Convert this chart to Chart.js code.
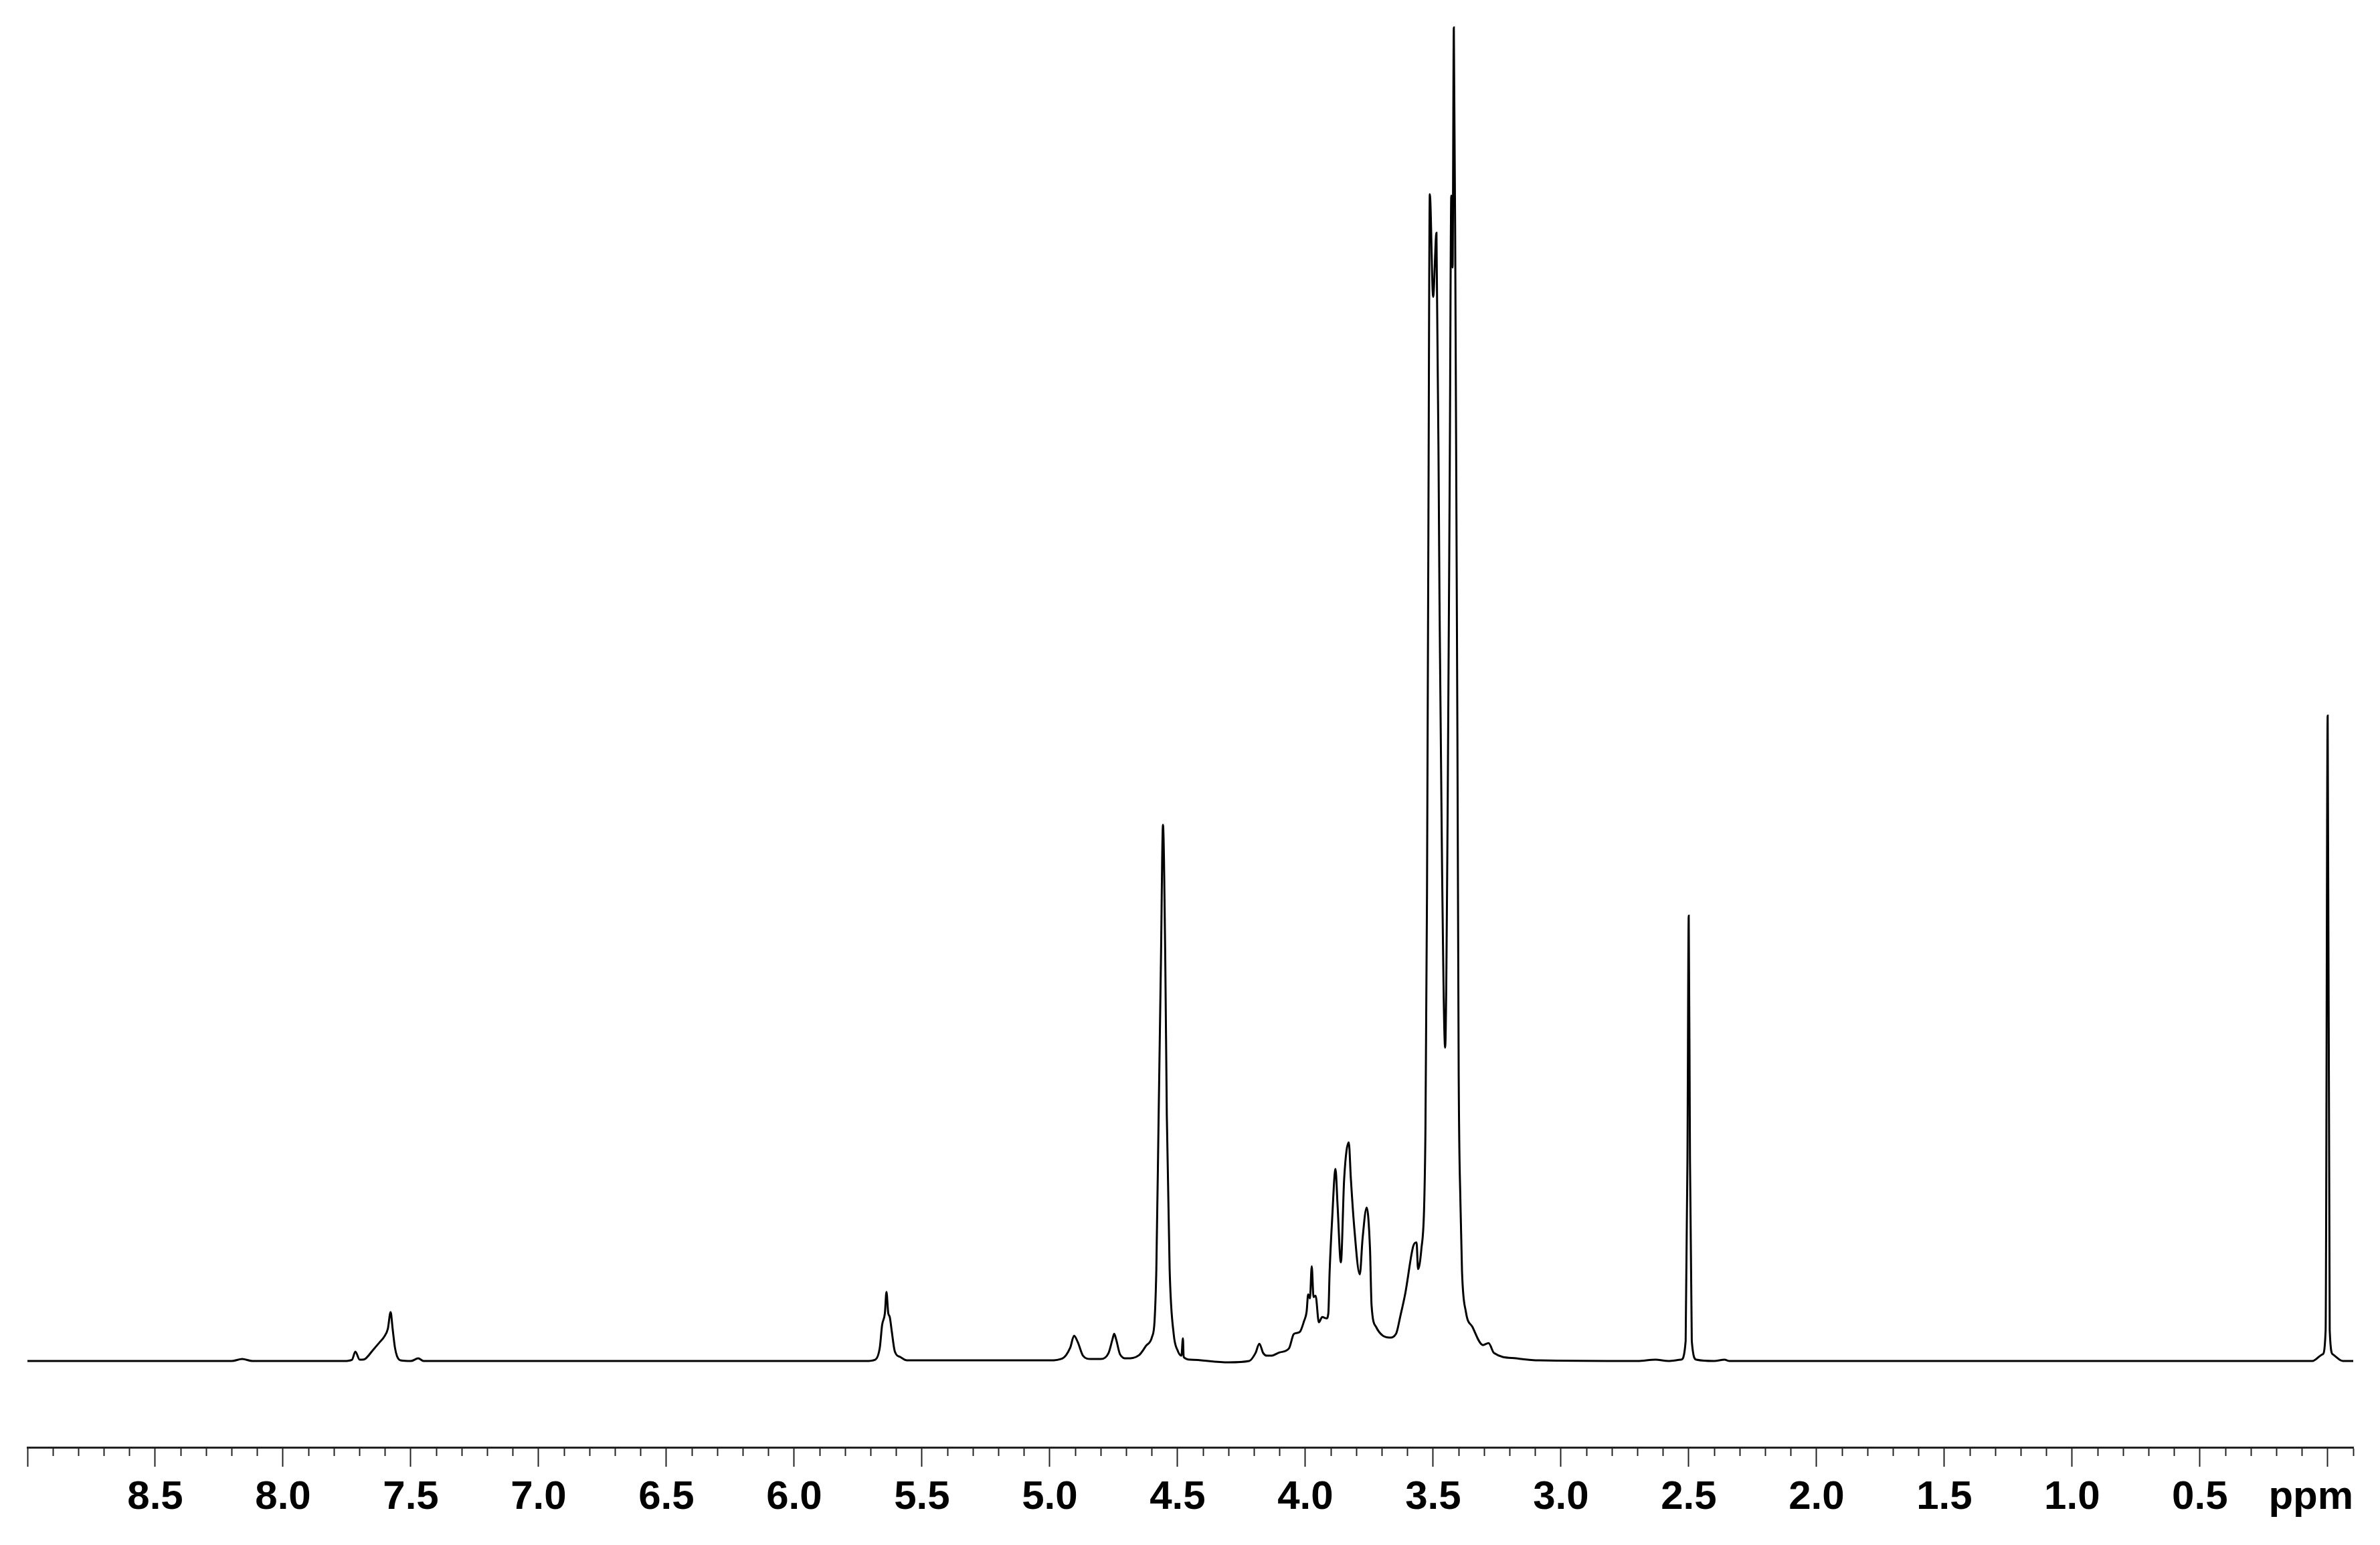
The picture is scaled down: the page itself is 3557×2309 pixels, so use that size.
<!DOCTYPE html>
<html>
<head>
<meta charset="utf-8">
<script src="https://cdn.jsdelivr.net/npm/chart.js@4.4.1/dist/chart.umd.min.js"></script>
<style>
  html, body { margin: 0; padding: 0; background: #fff; }
  #wrap { width: 3557px; height: 2309px; }
</style>
</head>
<body>
<div id="wrap"><canvas id="nmr" width="3557" height="2309"></canvas></div>
<script>
// chemical shift (ppm) and relative intensity
const shifts = [
  9.00, 8.20, 8.16, 8.12, 7.76, 7.73, 7.717, 7.70, 7.69, 7.679, 7.646, 7.62, 7.605, 7.59, 7.579, 7.571, 7.562, 7.554, 7.54, 7.50, 7.471, 7.45,
  5.72, 5.683, 5.665, 5.656, 5.645, 5.639, 5.632, 5.626, 5.618, 5.606, 5.585, 5.559,
  5.00, 4.95, 4.92, 4.905, 4.89, 4.87, 4.84, 4.80, 4.77, 4.755, 4.748, 4.74, 4.725, 4.70, 4.65, 4.623, 4.60, 4.59,
  4.583, 4.574, 4.565, 4.557, 4.548, 4.542, 4.531, 4.515, 4.50, 4.485, 4.479, 4.476, 4.45, 4.30, 4.22, 4.195, 4.18, 4.165, 4.15,
  4.134, 4.10, 4.064, 4.046, 4.035, 4.021, 4.005, 3.995, 3.989, 3.982, 3.975, 3.968, 3.960, 3.947, 3.934, 3.917, 3.910, 3.905,
  3.895, 3.882, 3.874, 3.861, 3.848, 3.830, 3.822, 3.809, 3.787, 3.776, 3.760, 3.747, 3.741, 3.723, 3.697, 3.671, 3.645, 3.628,
  3.609, 3.578, 3.565, 3.559, 3.546, 3.535, 3.530, 3.524, 3.519, 3.513, 3.500, 3.487, 3.475, 3.465, 3.453, 3.443, 3.435, 3.429,
  3.424, 3.419, 3.412, 3.405, 3.400, 3.393, 3.387, 3.372, 3.346, 3.305, 3.283, 3.262, 3.175, 3.085,
  2.70, 2.63, 2.58, 2.53, 2.512, 2.505, 2.500, 2.495, 2.488, 2.47, 2.40, 2.36, 2.34,
  0.06, 0.02, 0.008, 0.000, -0.008, -0.02, -0.06, -0.10
];
const intens = [
  0, 0, 0.15, 0, 0, 0.1, 0.7, 0.1, 0.1, 0.15, 0.87, 1.45, 1.8, 2.4, 3.66, 2.4, 1.0, 0.37, 0.05, 0, 0.2, 0,
  0, 0.1, 1.0, 2.7, 3.6, 5.18, 3.6, 3.3, 2.2, 0.7, 0.3, 0.05,
  0.05, 0.2, 1.0, 1.9, 1.4, 0.4, 0.15, 0.15, 0.6, 1.6, 2.05, 1.6, 0.5, 0.2, 0.45, 1.15, 1.8, 3.0,
  6.9, 18.4, 30, 40.2, 30, 18.4, 6.9, 2.0, 0.8, 0.4, 1.7, 0.3, 0.1, -0.1, 0, 0.6, 1.3, 0.6, 0.4,
  0.4, 0.65, 0.95, 2.0, 2.1, 2.2, 3.0, 3.7, 5.0, 4.7, 7.1, 4.8, 4.9, 2.9, 3.3, 3.2, 3.6, 6.7,
  10.7, 14.4, 11.7, 7.4, 13.7, 16.4, 13.7, 10.1, 6.5, 9.2, 11.5, 8.4, 4.2, 2.55, 1.9, 1.76, 2.05, 3.4,
  5.07, 8.6, 8.9, 6.9, 8.4, 11.7, 17.6, 35, 60, 87.5, 79.8, 84.6, 56.9, 36.8, 23.5, 41.8, 66.9, 87.4,
  82, 100, 77, 46.9, 21.4, 11.7, 6.7, 3.7, 2.55, 1.2, 1.35, 0.6, 0.2, 0.05,
  0, 0.1, 0, 0.1, 1.5, 15, 33.4, 15, 1.5, 0.1, 0, 0.1, 0,
  0, 0.5, 2.3, 48.4, 2.3, 0.5, 0, 0
];

// axis range and labelled ticks
const axisMin = -0.1;
const axisMax = 9.0;
const tickStep = 0.1;
const labelStep = 0.5;
const unitLabel = 'ppm';

const isMajor = v => Math.abs(v / labelStep - Math.round(v / labelStep)) < 1e-6;

const ctx = document.getElementById('nmr').getContext('2d');
new Chart(ctx, {
  type: 'line',
  data: {
    datasets: [{
      data: shifts.map((x, i) => ({ x: x, y: intens[i] })),
      borderColor: '#000',
      borderWidth: 3,
      pointRadius: 0,
      cubicInterpolationMode: 'monotone',
      fill: false
    }]
  },
  options: {
    responsive: false,
    devicePixelRatio: 1,
    animation: false,
    // x axis height = tickLength + lineHeight + 2 * padding
    layout: { padding: { left: 41, right: 40, top: 0, bottom: 25 } },
    plugins: { legend: { display: false }, tooltip: { enabled: false } },
    scales: {
      x: {
        type: 'linear',
        reverse: true,
        min: axisMin,
        max: axisMax,
        border: { display: true, color: '#222', width: 3 },
        grid: {
          drawOnChartArea: false,
          drawTicks: true,
          tickLength: 29,
          tickColor: '#222',
          tickWidth: 2,
          tickBorderDash: c => (c.tick && isMajor(c.tick.value)) ? [] : [11, 200]
        },
        ticks: {
          stepSize: tickStep,
          autoSkip: false,
          maxRotation: 0,
          minRotation: 0,
          padding: 10,
          color: '#000',
          font: { family: '"Liberation Sans", Arial, sans-serif', size: 60, weight: 'bold' },
          callback: v => {
            if (Math.abs(v) < 1e-6) return unitLabel + '   ';
            if (Math.abs(v - axisMax) < 1e-6) return '';
            return isMajor(v) ? v.toFixed(1) : '';
          }
        }
      },
      y: {
        display: false,
        min: -6.47,
        max: 102.06
      }
    }
  }
});
</script>
</body>
</html>
